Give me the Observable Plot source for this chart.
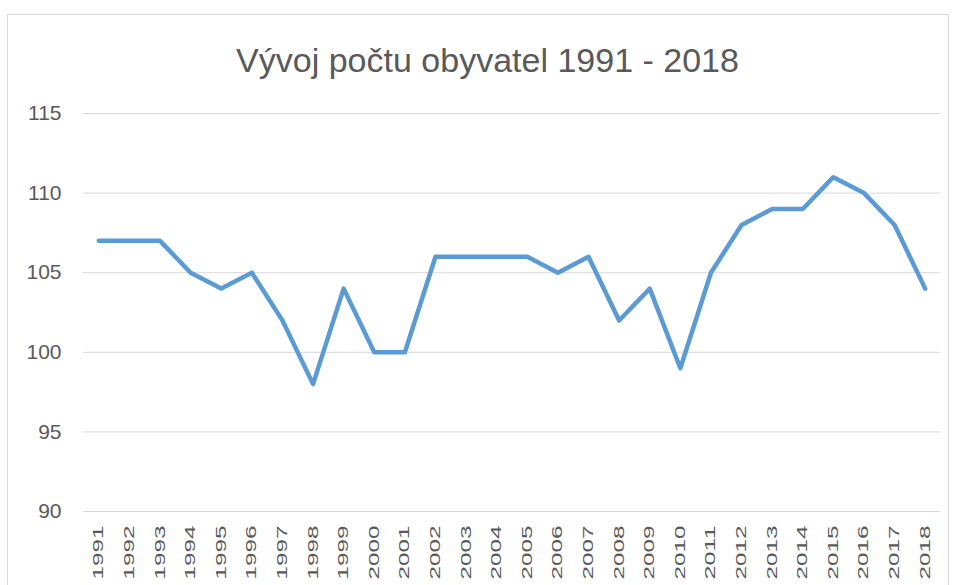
<!DOCTYPE html>
<html><head><meta charset="utf-8">
<script src="https://cdn.jsdelivr.net/npm/d3@7"></script>
<script src="https://cdn.jsdelivr.net/npm/@observablehq/plot@0.6"></script>
<style>
body{margin:0;background:#fff;width:955px;height:585px;overflow:hidden;position:relative;}
#frame{position:absolute;left:7px;top:14px;width:942px;height:600px;border:1px solid #d9d9d9;box-sizing:border-box;}
#title{position:absolute;left:0;width:975px;top:41px;text-align:center;font-family:"Liberation Sans",sans-serif;font-size:34px;color:#595959;white-space:nowrap;}
#chart{position:absolute;left:0;top:90px;}
</style></head>
<body>
<div id="frame"></div>
<div id="title">Vývoj počtu obyvatel 1991 - 2018</div>
<div id="chart"></div>
<script>
const years = ["1991","1992","1993","1994","1995","1996","1997","1998","1999","2000","2001","2002","2003","2004","2005","2006","2007","2008","2009","2010","2011","2012","2013","2014","2015","2016","2017","2018"];
const values = [107,107,107,105,104,105,102,98,104,100,100,106,106,106,106,105,106,102,104,99,105,108,109,109,111,110,108,104];
const yTicks = [90,95,100,105,110,115];

const data = years.map((y, i) => ({year: y, value: values[i]}));

const chart = Plot.plot({
  width: 955,
  height: 495,
  marginTop: 23,
  marginBottom: 74,
  marginLeft: 83,
  marginRight: 15,
  style: {background: "transparent", fontFamily: "'Liberation Sans', sans-serif"},
  x: {type: "point", domain: years, padding: 0.5, round: false, label: null},
  y: {domain: [90, 115], label: null},
  marks: [
    Plot.gridY(yTicks, {stroke: "#d9d9d9", strokeOpacity: 1}),
    Plot.axisY(yTicks, {tickSize: 0, tickPadding: 22, fontSize: 21, fill: "#595959"}),
    Plot.axisX({tickSize: 0, tickRotate: -90, tickPadding: 14, fontSize: 14, fill: "#595959"}),
    Plot.lineY(data, {x: "year", y: "value", stroke: "#5B9BD5", strokeWidth: 4.5, strokeLinejoin: "round", strokeLinecap: "round"})
  ]
});
document.getElementById("chart").appendChild(chart);
d3.select(chart).selectAll('g[aria-label="x-axis tick label"] text')
  .attr("textLength", 54).attr("lengthAdjust", "spacingAndGlyphs");
</script>
</body></html>
